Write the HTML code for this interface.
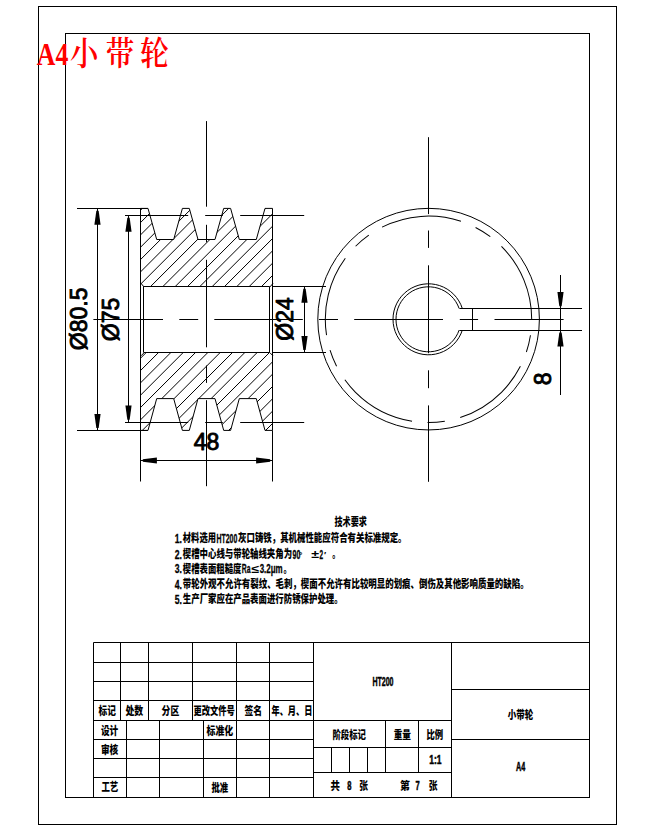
<!DOCTYPE html>
<html lang="zh"><head><meta charset="utf-8"><title>A4小带轮</title>
<style>html,body{margin:0;padding:0;background:#fff}body{width:654px;height:830px;overflow:hidden}svg{display:block}</style>
</head><body>
<svg width="654" height="830" viewBox="0 0 654 830">
<rect x="0" y="0" width="654" height="830" fill="#fff"/>
<g fill="none" stroke="#000" stroke-width="1" stroke-linecap="butt">
<rect x="38.5" y="6.5" width="578" height="818"/>
<rect x="65.5" y="33.5" width="524" height="764"/>
<line x1="93.50" y1="642.50" x2="590.00" y2="642.50" />
<line x1="93.50" y1="642.50" x2="93.50" y2="797.50" />
<line x1="93.50" y1="662.50" x2="313.90" y2="662.50" />
<line x1="93.50" y1="681.50" x2="313.90" y2="681.50" />
<line x1="93.50" y1="700.50" x2="313.90" y2="700.50" />
<line x1="93.50" y1="720.50" x2="313.90" y2="720.50" />
<line x1="93.50" y1="739.50" x2="313.90" y2="739.50" />
<line x1="93.50" y1="758.50" x2="313.90" y2="758.50" />
<line x1="93.50" y1="777.50" x2="313.90" y2="777.50" />
<line x1="120.50" y1="642.50" x2="120.50" y2="720.50" />
<line x1="148.50" y1="642.50" x2="148.50" y2="720.50" />
<line x1="192.50" y1="642.50" x2="192.50" y2="720.50" />
<line x1="236.50" y1="642.50" x2="236.50" y2="720.50" />
<line x1="269.50" y1="642.50" x2="269.50" y2="720.50" />
<line x1="126.50" y1="720.50" x2="126.50" y2="797.50" />
<line x1="159.50" y1="720.50" x2="159.50" y2="797.50" />
<line x1="203.50" y1="720.50" x2="203.50" y2="797.50" />
<line x1="236.50" y1="720.50" x2="236.50" y2="797.50" />
<line x1="269.50" y1="720.50" x2="269.50" y2="797.50" />
<line x1="313.50" y1="642.50" x2="313.50" y2="797.50" />
<line x1="313.90" y1="720.50" x2="451.50" y2="720.50" />
<line x1="313.90" y1="747.50" x2="451.50" y2="747.50" />
<line x1="313.90" y1="772.50" x2="451.50" y2="772.50" />
<line x1="385.50" y1="720.30" x2="385.50" y2="772.20" />
<line x1="418.50" y1="720.30" x2="418.50" y2="772.20" />
<line x1="331.50" y1="747.20" x2="331.50" y2="772.20" />
<line x1="349.50" y1="747.20" x2="349.50" y2="772.20" />
<line x1="367.50" y1="747.20" x2="367.50" y2="772.20" />
<line x1="451.50" y1="642.50" x2="451.50" y2="797.50" />
<line x1="451.50" y1="689.50" x2="590.00" y2="689.50" />
<line x1="451.50" y1="739.50" x2="590.00" y2="739.50" />
</g>
<defs><clipPath id="hc"><path d="
M140.50,208.40 L148.00,208.40 L156.70,239.50 L173.70,239.50 L182.40,208.40 L189.30,208.40 L198.00,239.50 L215.00,239.50 L223.70,208.40 L230.60,208.40 L239.30,239.50 L256.30,239.50 L265.00,208.40 L272.50,208.40 L272.50,286.40 L140.50,286.40 Z M140.50,430.40 L148.00,430.40 L156.70,398.60 L173.70,398.60 L182.40,430.40 L189.30,430.40 L198.00,398.60 L215.00,398.60 L223.70,430.40 L230.60,430.40 L239.30,398.60 L256.30,398.60 L265.00,430.40 L272.50,430.40 L272.50,352.30 L140.50,352.30 Z
"/></clipPath></defs>
<g stroke="#000" stroke-width="1" clip-path="url(#hc)">
<line x1="138.50" y1="212.26" x2="274.50" y2="76.26" />
<line x1="138.50" y1="224.59" x2="274.50" y2="88.59" />
<line x1="138.50" y1="236.92" x2="274.50" y2="100.92" />
<line x1="138.50" y1="249.25" x2="274.50" y2="113.25" />
<line x1="138.50" y1="261.58" x2="274.50" y2="125.58" />
<line x1="138.50" y1="273.91" x2="274.50" y2="137.91" />
<line x1="138.50" y1="286.24" x2="274.50" y2="150.24" />
<line x1="138.50" y1="298.57" x2="274.50" y2="162.57" />
<line x1="138.50" y1="310.90" x2="274.50" y2="174.90" />
<line x1="138.50" y1="323.23" x2="274.50" y2="187.23" />
<line x1="138.50" y1="335.56" x2="274.50" y2="199.56" />
<line x1="138.50" y1="347.89" x2="274.50" y2="211.89" />
<line x1="138.50" y1="360.22" x2="274.50" y2="224.22" />
<line x1="138.50" y1="372.55" x2="274.50" y2="236.55" />
<line x1="138.50" y1="384.88" x2="274.50" y2="248.88" />
<line x1="138.50" y1="397.21" x2="274.50" y2="261.21" />
<line x1="138.50" y1="409.54" x2="274.50" y2="273.54" />
<line x1="138.50" y1="421.87" x2="274.50" y2="285.87" />
<line x1="138.50" y1="434.20" x2="274.50" y2="298.20" />
<line x1="138.50" y1="446.53" x2="274.50" y2="310.53" />
<line x1="138.50" y1="458.86" x2="274.50" y2="322.86" />
<line x1="138.50" y1="471.19" x2="274.50" y2="335.19" />
<line x1="138.50" y1="483.52" x2="274.50" y2="347.52" />
<line x1="138.50" y1="495.85" x2="274.50" y2="359.85" />
<line x1="138.50" y1="508.18" x2="274.50" y2="372.18" />
<line x1="138.50" y1="520.51" x2="274.50" y2="384.51" />
<line x1="138.50" y1="532.84" x2="274.50" y2="396.84" />
<line x1="138.50" y1="545.17" x2="274.50" y2="409.17" />
<line x1="138.50" y1="557.50" x2="274.50" y2="421.50" />
</g>
<g fill="none" stroke="#000" stroke-width="1" stroke-linejoin="miter">
<path d="M140.50,208.40 L148.00,208.40 L156.70,239.50 L173.70,239.50 L182.40,208.40 L189.30,208.40 L198.00,239.50 L215.00,239.50 L223.70,208.40 L230.60,208.40 L239.30,239.50 L256.30,239.50 L265.00,208.40 L272.50,208.40"/>
<path d="M140.50,430.40 L148.00,430.40 L156.70,398.60 L173.70,398.60 L182.40,430.40 L189.30,430.40 L198.00,398.60 L215.00,398.60 L223.70,430.40 L230.60,430.40 L239.30,398.60 L256.30,398.60 L265.00,430.40 L272.50,430.40"/>
<line x1="140.50" y1="208.40" x2="140.50" y2="430.40" />
<line x1="272.50" y1="208.40" x2="272.50" y2="430.40" />
<line x1="143.50" y1="286.50" x2="269.50" y2="286.50" />
<line x1="143.50" y1="352.50" x2="269.50" y2="352.50" />
<line x1="143.50" y1="286.40" x2="143.50" y2="352.30" />
<line x1="269.50" y1="286.40" x2="269.50" y2="352.30" />
<line x1="141.00" y1="283.40" x2="144.00" y2="286.90" />
<line x1="141.00" y1="355.80" x2="144.00" y2="352.80" />
<line x1="273.00" y1="283.40" x2="270.00" y2="286.90" />
<line x1="273.00" y1="355.80" x2="270.00" y2="352.80" />
<line x1="93.40" y1="319.50" x2="163.00" y2="319.50" />
<line x1="179.30" y1="319.50" x2="198.20" y2="319.50" />
<line x1="214.30" y1="319.50" x2="302.80" y2="319.50" />
<line x1="318.90" y1="319.50" x2="338.00" y2="319.50" />
<line x1="354.20" y1="319.50" x2="443.00" y2="319.50" />
<line x1="459.80" y1="319.50" x2="478.10" y2="319.50" />
<line x1="494.50" y1="319.50" x2="563.60" y2="319.50" />
<line x1="206.50" y1="121.10" x2="206.50" y2="206.70" />
<line x1="206.50" y1="224.80" x2="206.50" y2="242.20" />
<line x1="206.50" y1="259.80" x2="206.50" y2="347.30" />
<line x1="206.50" y1="365.50" x2="206.50" y2="382.90" />
<line x1="206.50" y1="400.20" x2="206.50" y2="486.20" />
<line x1="428.50" y1="137.20" x2="428.50" y2="214.10" />
<line x1="428.50" y1="230.50" x2="428.50" y2="247.90" />
<line x1="428.50" y1="265.30" x2="428.50" y2="353.20" />
<line x1="428.50" y1="370.30" x2="428.50" y2="388.20" />
<line x1="428.50" y1="405.40" x2="428.50" y2="481.80" />
<line x1="125.00" y1="215.50" x2="188.20" y2="215.50" />
<line x1="205.20" y1="215.50" x2="222.80" y2="215.50" />
<line x1="240.20" y1="215.50" x2="304.20" y2="215.50" />
<line x1="125.00" y1="422.50" x2="188.20" y2="422.50" />
<line x1="205.20" y1="422.50" x2="222.80" y2="422.50" />
<line x1="240.20" y1="422.50" x2="304.20" y2="422.50" />
<line x1="77.00" y1="208.50" x2="147.50" y2="208.50" />
<line x1="77.00" y1="430.50" x2="147.50" y2="430.50" />
<line x1="97.50" y1="208.40" x2="97.50" y2="430.40" />
<line x1="128.50" y1="215.40" x2="128.50" y2="422.00" />
<line x1="272.50" y1="286.50" x2="326.00" y2="286.50" />
<line x1="272.50" y1="352.50" x2="326.00" y2="352.50" />
<line x1="304.50" y1="286.40" x2="304.50" y2="352.30" />
<line x1="140.50" y1="430.40" x2="140.50" y2="481.50" />
<line x1="272.50" y1="430.40" x2="272.50" y2="481.50" />
<line x1="140.50" y1="460.50" x2="272.50" y2="460.50" />
<line x1="459.50" y1="308.50" x2="582.00" y2="308.50" />
<line x1="459.50" y1="330.50" x2="582.00" y2="330.50" />
<line x1="472.50" y1="308.50" x2="472.50" y2="330.10" />
<line x1="560.50" y1="275.00" x2="560.50" y2="395.00" />
<circle cx="428.6" cy="319.15000000000003" r="110.8"/>
<circle cx="428.5" cy="319.3" r="103.2" stroke-dasharray="81.05 15.85 17.29 15.49" transform="rotate(-45 428.5 319.3)"/>
<path d="M459.15,308.50 A32.5,32.5 0 1 0 459.15,330.10"/>
<path d="M462.32,308.50 A35.5,35.5 0 1 0 462.32,330.10"/>
</g>
<g fill="#000" stroke="none">
<polygon points="98.65,210.70 100.60,224.80 94.40,224.80 96.35,210.70"/>
<polygon points="96.35,428.10 94.40,414.00 100.60,414.00 98.65,428.10"/>
<polygon points="129.65,217.70 131.60,231.80 125.40,231.80 127.35,217.70"/>
<polygon points="127.35,419.70 125.40,405.60 131.60,405.60 129.65,419.70"/>
<polygon points="305.65,288.70 307.60,302.80 301.40,302.80 303.35,288.70"/>
<polygon points="303.35,350.00 301.40,335.90 307.60,335.90 305.65,350.00"/>
<polygon points="142.80,459.35 156.90,457.40 156.90,463.60 142.80,461.65"/>
<polygon points="270.20,461.65 256.10,463.60 256.10,457.40 270.20,459.35"/>
<polygon points="559.35,306.20 557.40,292.10 563.60,292.10 561.65,306.20"/>
<polygon points="561.65,332.40 563.60,346.50 557.40,346.50 559.35,332.40"/>
</g>
<g font-family="'Liberation Sans', Arial, sans-serif" font-size="23" fill="#000" stroke="#000" stroke-width="0.9" stroke-linejoin="round" text-anchor="middle">
<text transform="translate(87.0 318.8) rotate(-90)">Ø80.5</text>
<text transform="translate(118.7 319.4) rotate(-90)">Ø75</text>
<text transform="translate(293.4 318.9) rotate(-90)">Ø24</text>
<text x="206.6" y="449.5">48</text>
<text transform="translate(550.5 378.9) rotate(-90)">8</text>
</g>
<g font-family="'Liberation Sans', 'Noto Sans CJK SC', sans-serif" fill="#000">
<text x="334.5" y="526.0" font-size="10.8" font-weight="900" textLength="32.3" lengthAdjust="spacingAndGlyphs">技术要求</text>
<text x="174.8" y="542.8" font-size="12.6" font-weight="700" stroke="#000" stroke-width="0.3" textLength="7.2" lengthAdjust="spacingAndGlyphs">1.</text>
<text x="182.8" y="542.2" font-size="11.5" font-weight="900" textLength="33.2" lengthAdjust="spacingAndGlyphs">材料选用</text>
<text x="216.5" y="542.8" font-size="12.6" font-weight="700" stroke="#000" stroke-width="0.3" textLength="20.8" lengthAdjust="spacingAndGlyphs">HT200</text>
<text x="238.1" y="542.2" font-size="11.5" font-weight="900" textLength="168.4" lengthAdjust="spacingAndGlyphs">灰口铸铁，其机械性能应符合有关标准规定。</text>
<text x="174.8" y="558.8" font-size="12.6" font-weight="700" stroke="#000" stroke-width="0.3" textLength="7.2" lengthAdjust="spacingAndGlyphs">2.</text>
<text x="182.8" y="558.2" font-size="11.5" font-weight="900" textLength="109.3" lengthAdjust="spacingAndGlyphs">楔槽中心线与带轮轴线夹角为</text>
<text x="292.5" y="558.8" font-size="12.6" font-weight="700" stroke="#000" stroke-width="0.3" textLength="7.9" lengthAdjust="spacingAndGlyphs">90</text>
<text x="298.7" y="557.7" font-size="9" font-weight="700">°</text>
<text x="311.2" y="558.2" font-size="11.5" font-weight="900" textLength="7.8" lengthAdjust="spacingAndGlyphs">±</text>
<text x="319.6" y="558.8" font-size="12.6" font-weight="700" stroke="#000" stroke-width="0.3" textLength="3.6" lengthAdjust="spacingAndGlyphs">2</text>
<text x="324.0" y="557.7" font-size="9" font-weight="700">′</text>
<text x="332.2" y="558.2" font-size="11.5" font-weight="900" textLength="7.8" lengthAdjust="spacingAndGlyphs">。</text>
<text x="174.8" y="573.3" font-size="12.6" font-weight="700" stroke="#000" stroke-width="0.3" textLength="7.2" lengthAdjust="spacingAndGlyphs">3.</text>
<text x="182.8" y="572.7" font-size="11.5" font-weight="900" textLength="58.6" lengthAdjust="spacingAndGlyphs">楔槽表面粗糙度</text>
<text x="241.8" y="573.3" font-size="12.6" font-weight="700" stroke="#000" stroke-width="0.3" textLength="8.7" lengthAdjust="spacingAndGlyphs">Ra</text>
<text x="251.3" y="572.7" font-size="11.5" font-weight="900" textLength="7.8" lengthAdjust="spacingAndGlyphs">≤</text>
<text x="259.7" y="573.3" font-size="12.6" font-weight="700" stroke="#000" stroke-width="0.3" textLength="23.0" lengthAdjust="spacingAndGlyphs">3.2μm</text>
<text x="283.5" y="572.7" font-size="11.5" font-weight="900" textLength="7.8" lengthAdjust="spacingAndGlyphs">。</text>
<text x="174.8" y="588.8" font-size="12.6" font-weight="700" stroke="#000" stroke-width="0.3" textLength="7.2" lengthAdjust="spacingAndGlyphs">4.</text>
<text x="182.8" y="588.2" font-size="11.5" font-weight="900" textLength="345.8" lengthAdjust="spacingAndGlyphs">带轮外观不允许有裂纹、毛刺，楔面不允许有比较明显的划痕、倒伤及其他影响质量的缺陷。</text>
<text x="174.8" y="603.8" font-size="12.6" font-weight="700" stroke="#000" stroke-width="0.3" textLength="7.2" lengthAdjust="spacingAndGlyphs">5.</text>
<text x="182.8" y="603.2" font-size="11.5" font-weight="900" textLength="159.9" lengthAdjust="spacingAndGlyphs">生产厂家应在产品表面进行防锈保护处理。</text>
<text x="98.5" y="715.0" font-size="11.5" font-weight="900" textLength="17.3" lengthAdjust="spacingAndGlyphs">标记</text>
<text x="125.4" y="715.0" font-size="11.5" font-weight="900" textLength="17.8" lengthAdjust="spacingAndGlyphs">处数</text>
<text x="161.6" y="715.0" font-size="11.5" font-weight="900" textLength="17.6" lengthAdjust="spacingAndGlyphs">分区</text>
<text x="193.4" y="715.0" font-size="11.5" font-weight="900" textLength="41.5" lengthAdjust="spacingAndGlyphs">更改文件号</text>
<text x="244.5" y="715.0" font-size="11.5" font-weight="900" textLength="17.7" lengthAdjust="spacingAndGlyphs">签名</text>
<text x="271.5" y="715.0" font-size="11.5" font-weight="900" textLength="40.9" lengthAdjust="spacingAndGlyphs">年、月、日</text>
<text x="100.9" y="734.8" font-size="11.5" font-weight="900" textLength="17.3" lengthAdjust="spacingAndGlyphs">设计</text>
<text x="206.6" y="734.9" font-size="11.5" font-weight="900" textLength="26.6" lengthAdjust="spacingAndGlyphs">标准化</text>
<text x="100.9" y="753.6" font-size="11.5" font-weight="900" textLength="17.3" lengthAdjust="spacingAndGlyphs">审核</text>
<text x="101.4" y="790.9" font-size="11.5" font-weight="900" textLength="16.8" lengthAdjust="spacingAndGlyphs">工艺</text>
<text x="211.5" y="792.2" font-size="11.5" font-weight="900" textLength="16.7" lengthAdjust="spacingAndGlyphs">批准</text>
<text x="372.4" y="685.6" font-size="12.5" font-weight="900" stroke="#000" stroke-width="0.5" textLength="21.1" lengthAdjust="spacingAndGlyphs">HT200</text>
<text x="332.5" y="738.6" font-size="11.5" font-weight="900" textLength="33.4" lengthAdjust="spacingAndGlyphs">阶段标记</text>
<text x="393.7" y="738.6" font-size="11.5" font-weight="900" textLength="17.3" lengthAdjust="spacingAndGlyphs">重量</text>
<text x="426.5" y="738.6" font-size="11.5" font-weight="900" textLength="16.7" lengthAdjust="spacingAndGlyphs">比例</text>
<text x="429.3" y="764.3" font-size="12.5" font-weight="900" stroke="#000" stroke-width="0.5" textLength="12.3" lengthAdjust="spacingAndGlyphs">1:1</text>
<text x="330.6" y="789.5" font-size="11.5" font-weight="900" textLength="9.4" lengthAdjust="spacingAndGlyphs">共</text>
<text x="347.2" y="789.5" font-size="12.5" font-weight="900" stroke="#000" stroke-width="0.5" textLength="4.2" lengthAdjust="spacingAndGlyphs">8</text>
<text x="359.3" y="789.5" font-size="11.5" font-weight="900" textLength="8.7" lengthAdjust="spacingAndGlyphs">张</text>
<text x="400.1" y="789.5" font-size="11.5" font-weight="900" textLength="9.9" lengthAdjust="spacingAndGlyphs">第</text>
<text x="415.5" y="789.5" font-size="12.5" font-weight="900" stroke="#000" stroke-width="0.5" textLength="4.2" lengthAdjust="spacingAndGlyphs">7</text>
<text x="428.8" y="789.5" font-size="11.5" font-weight="900" textLength="8.7" lengthAdjust="spacingAndGlyphs">张</text>
<text x="507.7" y="718.7" font-size="11.5" font-weight="900" textLength="25.5" lengthAdjust="spacingAndGlyphs">小带轮</text>
<text x="516.1" y="770.6" font-size="12.5" font-weight="900" stroke="#000" stroke-width="0.5" textLength="9.2" lengthAdjust="spacingAndGlyphs">A4</text>
</g>
<g fill="#f00" font-weight="700">
<text x="36.8" y="64.7" font-family="'Liberation Serif', serif" font-size="32.5" textLength="31.6" lengthAdjust="spacingAndGlyphs">A4</text>
<text transform="translate(0 65.3) scale(0.945 1.09)" y="0" font-family="'Noto Serif CJK SC', serif" font-size="30" font-weight="600"><tspan x="89.2" text-anchor="middle">小</tspan><tspan x="126.8" text-anchor="middle">带</tspan><tspan x="163.4" text-anchor="middle">轮</tspan></text>
</g>
</svg>
</body></html>
